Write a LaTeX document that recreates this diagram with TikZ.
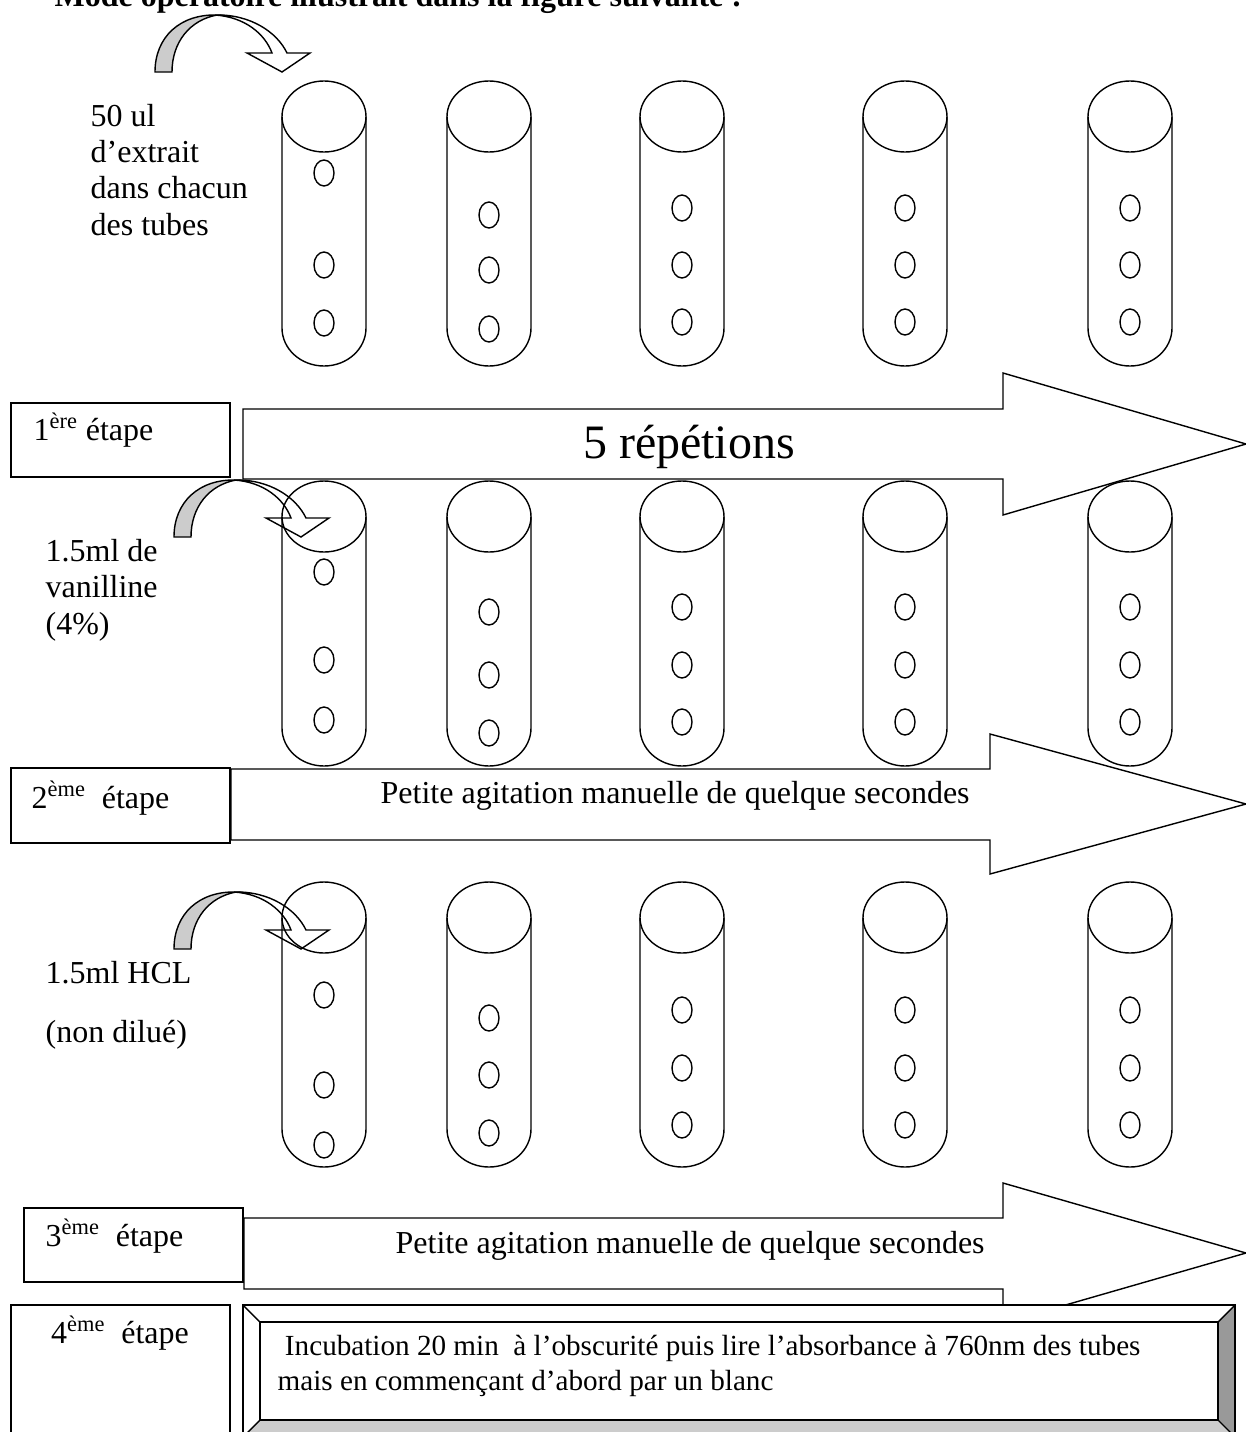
\documentclass[tikz,border=0pt]{standalone}
\usepackage{fontspec}
\setmainfont{Liberation Serif}

\begin{document}
\begin{tikzpicture}[x=0.2mm,y=0.2mm,line width=0.8pt,line join=miter,
  txt/.style={inner sep=0pt,font=\fontsize{18.2}{20.5}\selectfont},
  grand/.style={inner sep=0pt,font=\fontsize{27.3}{31}\selectfont},
  titre/.style={inner sep=0pt,font=\fontsize{18.2}{20.5}\selectfont\bfseries},
  bevtxt/.style={inner sep=0pt,align=left,font=\fontsize{16.6}{19.5}\selectfont},
  pics/verse/.style={code={
    \draw[fill=black!20] (0,0) .. controls (0,35) and (25,58) .. (62,57) .. controls (35,52) and (17,30) .. (17,0) -- cycle;
    \draw[fill=white] (60,57) .. controls (95,58) and (122,40) .. (132,19) -- (155,19) -- (127,0) -- (92,19) -- (117,19) .. controls (110,38) and (90,55) .. (60,57) -- cycle;
  }},
  pics/tube/.style n args={3}{code={
    \draw (0,-35.5) ellipse [x radius=42,y radius=35.5];
    \draw (-42,-35.5) -- (-42,-247) arc[start angle=180,end angle=360,x radius=42,y radius=38] -- (42,-35.5);
    \foreach \h in {#1,#2,#3}
      \draw (0,-\h) ellipse [x radius=10,y radius=13];
  }}]
\useasboundingbox (0,0) rectangle (1246,-1432);

\node[titre,anchor=base west] (titre) at (54,-7) {Mode opératoire illustrait dans la figure suivante :};

% grandes fleches
\draw (243,-409) -- (1003,-409) -- (1003,-373) -- (1246,-444) -- (1003,-515) -- (1003,-479) -- (243,-479) -- cycle;
\draw (231,-769) -- (990,-769) -- (990,-734) -- (1246,-804) -- (990,-874) -- (990,-840) -- (231,-840) -- cycle;
\draw (244,-1218) -- (1003,-1218) -- (1003,-1183) -- (1246,-1253) -- (1003,-1323) -- (1003,-1289) -- (244,-1289) -- cycle;
\node[grand,anchor=base] (rep) at (689,-458) {5 répétions};
\node[txt,anchor=base west] (agit2) at (380,-803) {Petite agitation manuelle de quelque secondes};
\node[txt,anchor=base west] (agit3) at (395,-1253) {Petite agitation manuelle de quelque secondes};

% fleches courbes
\pic at (155,-72) {verse};
\pic at (174,-537) {verse};
\pic at (174,-949) {verse};

% tubes
\foreach \x/\a/\b/\c in {324/92/184/242,489/134/189/248,682/127/184/241,905/127/184/241,1130/127/184/241}
  \pic at (\x,-81) {tube={\a}{\b}{\c}};
\foreach \x/\a/\b/\c in {324/91/179/239,489/131/194/252,682/126/184/241,905/126/184/241,1130/126/184/241}
  \pic at (\x,-481) {tube={\a}{\b}{\c}};
\foreach \x/\a/\b/\c in {324/113/203/263,489/136/193/251,682/128/186/243,905/128/186/243,1130/128/186/243}
  \pic at (\x,-882) {tube={\a}{\b}{\c}};

% textes a gauche (ancre sur la derniere ligne)
\node[txt,anchor=base west,align=left] (ajout1) at (90,-235) {50 ul\\d’extrait\\dans chacun\\des tubes};
\node[txt,anchor=base west,align=left] (ajout2) at (45,-634) {1.5ml de\\vanilline\\(4\%)};
\node[txt,anchor=base west,align=left] (ajout3) at (45,-1042) {1.5ml HCL\\[13pt](non dilué)};

% etapes
\draw (11,-403) rectangle (230,-477);
\node[txt,anchor=base west] (etape1) at (33,-440) {1\textsuperscript{ère} étape};
\draw (11,-768) rectangle (230,-843);
\node[txt,anchor=base west] (etape2) at (31,-808) {2\textsuperscript{ème}\ \ étape};
\draw (24,-1208) rectangle (243,-1282);
\node[txt,anchor=base west] (etape3) at (45,-1246) {3\textsuperscript{ème}\ \ étape};
\draw[fill=white] (11,-1305) rectangle (230,-1445);
\node[txt,anchor=base] (etape4) at (120,-1343) {4\textsuperscript{ème}\ \ étape};

% cadre biseaute
\fill[white] (243,-1305) rectangle (1235,-1437);
\fill[black!40] (1235,-1305) -- (1218,-1322) -- (1218,-1420) -- (1235,-1437) -- cycle;
\fill[black!20] (243,-1437) -- (260,-1420) -- (1218,-1420) -- (1235,-1437) -- cycle;
\draw (243,-1305) rectangle (1235,-1437);
\draw (260,-1322) rectangle (1218,-1420);
\draw (243,-1305) -- (260,-1322) (1235,-1305) -- (1218,-1322) (243,-1437) -- (260,-1420) (1235,-1437) -- (1218,-1420);
\node[bevtxt,anchor=base west] (incub) at (277,-1390) {\ Incubation 20 min\ \ à l’obscurité puis lire l’absorbance à 760nm des tubes\\mais en commençant d’abord par un blanc};
\end{tikzpicture}
\end{document}
